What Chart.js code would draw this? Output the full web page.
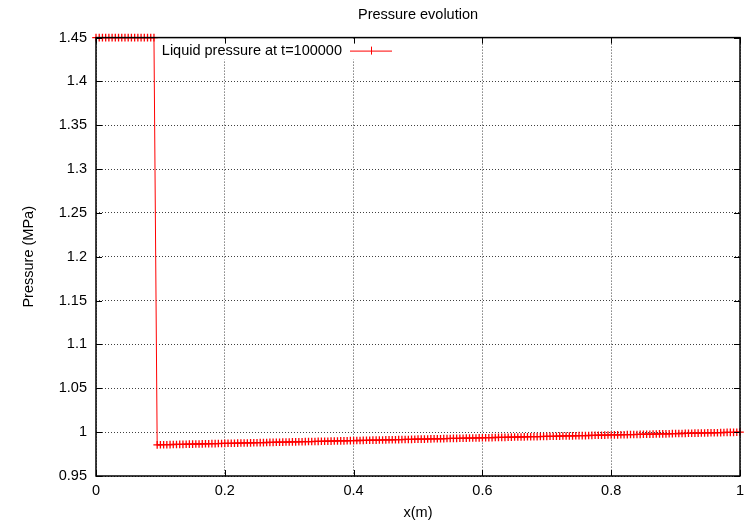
<!DOCTYPE html>
<html lang="en">
<head>
    <meta charset="UTF-8">
    <title>Pressure evolution</title>
    <script src="https://cdn.jsdelivr.net/npm/chart.js"></script>
    <style>
        html, body { margin: 0; padding: 0; background: #fff; }
        #wrap { width: 746px; height: 523px; }
    </style>
</head>
<body>
    <div id="wrap"><canvas id="pressureChart" width="746" height="523"></canvas></div>
    <script>
        // x positions (m)
        const xPos = [
            0.000, 0.005, 0.010, 0.015, 0.020, 0.025, 0.030, 0.035, 0.040, 0.045,
            0.050, 0.055, 0.060, 0.065, 0.070, 0.075, 0.080, 0.085, 0.090,
            0.095, 0.100, 0.105, 0.110, 0.115, 0.120, 0.125, 0.130, 0.135, 0.140,
            0.145, 0.150, 0.155, 0.160, 0.165, 0.170, 0.175, 0.180, 0.185, 0.190,
            0.195, 0.200, 0.205, 0.210, 0.215, 0.220, 0.225, 0.230, 0.235, 0.240,
            0.245, 0.250, 0.255, 0.260, 0.265, 0.270, 0.275, 0.280, 0.285, 0.290,
            0.295, 0.300, 0.305, 0.310, 0.315, 0.320, 0.325, 0.330, 0.335, 0.340,
            0.345, 0.350, 0.355, 0.360, 0.365, 0.370, 0.375, 0.380, 0.385, 0.390,
            0.395, 0.400, 0.405, 0.410, 0.415, 0.420, 0.425, 0.430, 0.435, 0.440,
            0.445, 0.450, 0.455, 0.460, 0.465, 0.470, 0.475, 0.480, 0.485, 0.490,
            0.495, 0.500, 0.505, 0.510, 0.515, 0.520, 0.525, 0.530, 0.535, 0.540,
            0.545, 0.550, 0.555, 0.560, 0.565, 0.570, 0.575, 0.580, 0.585, 0.590,
            0.595, 0.600, 0.605, 0.610, 0.615, 0.620, 0.625, 0.630, 0.635, 0.640,
            0.645, 0.650, 0.655, 0.660, 0.665, 0.670, 0.675, 0.680, 0.685, 0.690,
            0.695, 0.700, 0.705, 0.710, 0.715, 0.720, 0.725, 0.730, 0.735, 0.740,
            0.745, 0.750, 0.755, 0.760, 0.765, 0.770, 0.775, 0.780, 0.785, 0.790,
            0.795, 0.800, 0.805, 0.810, 0.815, 0.820, 0.825, 0.830, 0.835, 0.840,
            0.845, 0.850, 0.855, 0.860, 0.865, 0.870, 0.875, 0.880, 0.885, 0.890,
            0.895, 0.900, 0.905, 0.910, 0.915, 0.920, 0.925, 0.930, 0.935, 0.940,
            0.945, 0.950, 0.955, 0.960, 0.965, 0.970, 0.975, 0.980, 0.985, 0.990,
            0.995, 1.000
        ];

        // liquid pressure (MPa) at t=100000
        const liquidPressure = [
            1.45, 1.45, 1.45, 1.45, 1.45, 1.45, 1.45, 1.45, 1.45, 1.45,
            1.45, 1.45, 1.45, 1.45, 1.45, 1.45, 1.45, 1.45, 1.45,
            0.9855, 0.9856, 0.9857, 0.9857, 0.9858, 0.9859, 0.9860, 0.9861, 0.9861, 0.9862,
            0.9863, 0.9864, 0.9865, 0.9865, 0.9866, 0.9867, 0.9868, 0.9869, 0.9869, 0.9870,
            0.9871, 0.9872, 0.9873, 0.9873, 0.9874, 0.9875, 0.9876, 0.9877, 0.9877, 0.9878,
            0.9879, 0.9880, 0.9881, 0.9881, 0.9882, 0.9883, 0.9884, 0.9885, 0.9885, 0.9886,
            0.9887, 0.9888, 0.9889, 0.9889, 0.9890, 0.9891, 0.9892, 0.9893, 0.9893, 0.9894,
            0.9895, 0.9896, 0.9897, 0.9897, 0.9898, 0.9899, 0.9900, 0.9901, 0.9901, 0.9902,
            0.9903, 0.9904, 0.9905, 0.9905, 0.9906, 0.9907, 0.9908, 0.9909, 0.9909, 0.9910,
            0.9911, 0.9912, 0.9913, 0.9913, 0.9914, 0.9915, 0.9916, 0.9917, 0.9917, 0.9918,
            0.9919, 0.9920, 0.9921, 0.9921, 0.9922, 0.9923, 0.9924, 0.9925, 0.9925, 0.9926,
            0.9927, 0.9928, 0.9929, 0.9929, 0.9930, 0.9931, 0.9932, 0.9933, 0.9933, 0.9934,
            0.9935, 0.9936, 0.9937, 0.9937, 0.9938, 0.9939, 0.9940, 0.9941, 0.9941, 0.9942,
            0.9943, 0.9944, 0.9945, 0.9945, 0.9946, 0.9947, 0.9948, 0.9949, 0.9949, 0.9950,
            0.9951, 0.9952, 0.9953, 0.9953, 0.9954, 0.9955, 0.9956, 0.9957, 0.9957, 0.9958,
            0.9959, 0.9960, 0.9961, 0.9961, 0.9962, 0.9963, 0.9964, 0.9965, 0.9965, 0.9966,
            0.9967, 0.9968, 0.9969, 0.9969, 0.9970, 0.9971, 0.9972, 0.9973, 0.9973, 0.9974,
            0.9975, 0.9976, 0.9977, 0.9977, 0.9978, 0.9979, 0.9980, 0.9981, 0.9981, 0.9982,
            0.9983, 0.9984, 0.9985, 0.9985, 0.9986, 0.9987, 0.9988, 0.9989, 0.9989, 0.9990,
            0.9991, 0.9992, 0.9993, 0.9993, 0.9994, 0.9995, 0.9996, 0.9997, 0.9997, 0.9998,
            0.9999, 1.0000
        ];

        const seriesLabel = 'Liquid pressure at t=100000';
        const xRange = [0, 1];
        const yRange = [0.95, 1.45];

        const FONT = 'Liberation Sans, Arial, Helvetica, sans-serif';
        const FONT_SIZE = 14.5;
        const RED = 'rgb(255, 0, 0)';

        // gnuplot prints 1, 1.4, 0.2 ... without trailing zeros
        const plainNumber = v => String(Number(v.toFixed(3)));

        // gnuplot style: ticks pointing inwards on all four sides, full border, key inside
        const gnuplotFrame = {
            id: 'gnuplotFrame',
            beforeDatasetsDraw(chart) {
                const ctx = chart.ctx;
                // blank the key area like gnuplot does
                ctx.save();
                ctx.fillStyle = '#fff';
                ctx.fillRect(158, chart.chartArea.top + 2, 240, 20);
                ctx.restore();
            },
            afterDraw(chart) {
                const ctx = chart.ctx;
                const a = chart.chartArea;
                const xs = chart.scales.x, ys = chart.scales.y;
                ctx.save();
                ctx.strokeStyle = '#000';
                ctx.lineWidth = 1;
                ctx.beginPath();
                xs.ticks.forEach(t => {
                    const px = Math.round(xs.getPixelForValue(t.value)) + 0.5;
                    ctx.moveTo(px, a.bottom); ctx.lineTo(px, a.bottom - 6);
                    ctx.moveTo(px, a.top); ctx.lineTo(px, a.top + 6);
                });
                ys.ticks.forEach(t => {
                    const py = Math.round(ys.getPixelForValue(t.value)) + 0.5;
                    ctx.moveTo(a.left, py); ctx.lineTo(a.left + 6, py);
                    ctx.moveTo(a.right, py); ctx.lineTo(a.right - 6, py);
                });
                ctx.stroke();
                ctx.lineWidth = 1.5;
                ctx.strokeRect(a.left, a.top, a.right - a.left, a.bottom - a.top);

                // key
                const ds = chart.data.datasets[0];
                const ky = a.top + 13;
                ctx.font = FONT_SIZE + 'px ' + FONT;
                ctx.fillStyle = '#000';
                ctx.textAlign = 'right';
                ctx.textBaseline = 'middle';
                ctx.fillText(ds.label, 342, ky);
                ctx.strokeStyle = RED;
                ctx.lineWidth = 1;
                ctx.beginPath();
                ctx.moveTo(350, ky + 0.5); ctx.lineTo(392, ky + 0.5);
                ctx.moveTo(371.5, ky - 4); ctx.lineTo(371.5, ky + 4);
                ctx.stroke();
                ctx.restore();
            }
        };

        const ctx = document.getElementById('pressureChart').getContext('2d');
        const pressureChart = new Chart(ctx, {
            type: 'line',
            data: {
                datasets: [{
                    label: seriesLabel,
                    data: xPos.map((x, i) => ({ x: x, y: liquidPressure[i] })),
                    borderColor: RED,
                    backgroundColor: RED,
                    borderWidth: 1,
                    pointStyle: 'cross',
                    pointRadius: 3.8,
                    pointBorderWidth: 1.3,
                    pointBorderColor: RED,
                    tension: 0,
                    fill: false,
                    clip: false
                }]
            },
            options: {
                responsive: false,
                animation: false,
                events: [],
                layout: { padding: { left: 0, right: 6, top: 0, bottom: 0 } },
                plugins: {
                    legend: { display: false },
                    tooltip: { enabled: false },
                    title: {
                        display: true,
                        text: 'Pressure evolution',
                        fullSize: false,
                        color: '#000',
                        font: { family: FONT, size: FONT_SIZE, weight: 'normal' },
                        padding: { top: 6.6, bottom: 13.6 }
                    }
                },
                scales: {
                    x: {
                        type: 'linear',
                        min: xRange[0],
                        max: xRange[1],
                        afterFit(scale) {
                            scale.height = 47;
                            scale.paddingLeft = 0;
                            scale.paddingRight = 0;
                        },
                        ticks: {
                            stepSize: 0.2,
                            color: '#000',
                            padding: 6,
                            maxRotation: 0,
                            font: { family: FONT, size: FONT_SIZE },
                            callback: plainNumber
                        },
                        grid: {
                            drawTicks: false,
                            color: 'rgba(0,0,0,0.75)',
                            lineWidth: 1
                        },
                        border: { display: false, dash: [1, 2] },
                        title: {
                            display: true,
                            text: 'x(m)',
                            color: '#000',
                            font: { family: FONT, size: FONT_SIZE },
                            padding: { top: 0, bottom: 1 }
                        }
                    },
                    y: {
                        type: 'linear',
                        min: yRange[0],
                        max: yRange[1],
                        afterFit(scale) {
                            scale.width = 96;
                            scale.paddingTop = 0;
                            scale.paddingBottom = 0;
                        },
                        ticks: {
                            stepSize: 0.05,
                            color: '#000',
                            padding: 9,
                            font: { family: FONT, size: FONT_SIZE },
                            callback: plainNumber
                        },
                        grid: {
                            drawTicks: false,
                            color: 'rgba(0,0,0,0.75)',
                            lineWidth: 1
                        },
                        border: { display: false, dash: [1, 2] },
                        title: {
                            display: true,
                            text: 'Pressure (MPa)',
                            color: '#000',
                            font: { family: FONT, size: FONT_SIZE },
                            padding: { top: 20, bottom: 0 }
                        }
                    }
                }
            },
            plugins: [gnuplotFrame]
        });
    </script>
</body>
</html>
